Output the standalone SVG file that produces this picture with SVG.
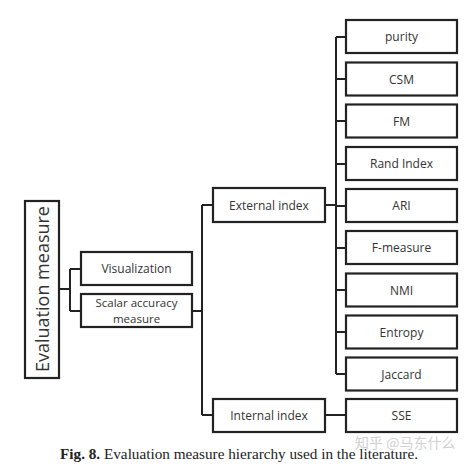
<svg xmlns="http://www.w3.org/2000/svg" width="470" height="471" viewBox="0 0 470 471">
<style>
.box{fill:#fff;stroke:#222;stroke-width:2.2}
.t{font-family:"Open Sans","Liberation Sans",sans-serif;font-size:12px;fill:#333;text-anchor:middle;dominant-baseline:central}
.c{fill:none;stroke:#222;stroke-width:2}
</style>
<rect width="470" height="471" fill="#fff"/>
<g id="connectors">
<path class="c" d="M59,289H70M70,269V311M70,269H81M70,311H81"/>
<path class="c" d="M192,311H202M202,205V415M202,205H213M202,415H213"/>
<path class="c" d="M325,205H336M336,37V374"/>
<path class="c" d="M336,37H346M336,79H346M336,121H346M336,164H346M336,206H346M336,248H346M336,290H346M336,332H346M336,374H346"/>
<path class="c" d="M325,415H346"/>
</g>
<g id="evaluation"><rect class="box" x="25" y="201" width="34" height="177"/><text class="t" style="font-size:18px" transform="translate(42,289) rotate(-90)" x="0" y="0">Evaluation measure</text></g>
<g id="visualization"><rect class="box" x="81" y="252" width="111" height="33"/><text class="t" x="136.5" y="268.5">Visualization</text></g>
<g id="scalar"><rect class="box" x="81" y="294" width="111" height="33"/><text class="t" style="font-size:11.5px" x="136.5" y="302.5">Scalar accuracy</text><text class="t" style="font-size:11.5px" x="136.5" y="318.5">measure</text></g>
<g id="external"><rect class="box" x="213" y="188" width="112" height="34"/><text class="t" x="269" y="205">External index</text></g>
<g id="internal"><rect class="box" x="213" y="399" width="112" height="33"/><text class="t" x="269" y="415.5">Internal index</text></g>
<g id="purity"><rect class="box" x="346" y="20" width="111" height="33"/><text class="t" x="401.5" y="36.5">purity</text></g>
<g id="csm"><rect class="box" x="346" y="62.5" width="111" height="33"/><text class="t" x="401.5" y="79">CSM</text></g>
<g id="fm"><rect class="box" x="346" y="104.5" width="111" height="33"/><text class="t" x="401.5" y="121">FM</text></g>
<g id="rand"><rect class="box" x="346" y="147" width="111" height="33"/><text class="t" x="401.5" y="163.5">Rand Index</text></g>
<g id="ari"><rect class="box" x="346" y="189" width="111" height="33"/><text class="t" x="401.5" y="205.5">ARI</text></g>
<g id="fmeasure"><rect class="box" x="346" y="231" width="111" height="33"/><text class="t" x="401.5" y="247.5">F-measure</text></g>
<g id="nmi"><rect class="box" x="346" y="273.5" width="111" height="33"/><text class="t" x="401.5" y="290">NMI</text></g>
<g id="entropy"><rect class="box" x="346" y="315.5" width="111" height="33"/><text class="t" x="401.5" y="332">Entropy</text></g>
<g id="jaccard"><rect class="box" x="346" y="357.5" width="111" height="33"/><text class="t" x="401.5" y="374">Jaccard</text></g>
<g id="sse"><rect class="box" x="346" y="399" width="111" height="33"/><text class="t" x="401.5" y="415.5">SSE</text></g>
<text x="60" y="459" textLength="358" lengthAdjust="spacingAndGlyphs" style="font-family:'Liberation Serif',serif;font-size:14.5px;fill:#222"><tspan font-weight="bold">Fig. 8.</tspan> Evaluation measure hierarchy used in the literature.</text>
<text x="355" y="448" style="font-family:'Noto Sans CJK SC',sans-serif;font-size:14px;fill:#d0d0d0">知乎 @马东什么</text>
</svg>
